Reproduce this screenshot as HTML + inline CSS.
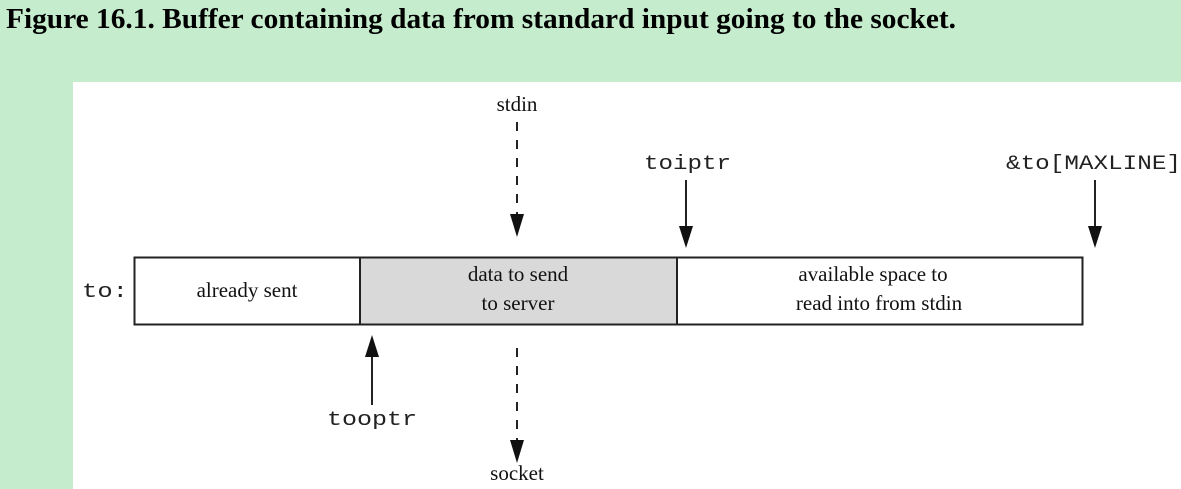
<!DOCTYPE html>
<html><head><style>
html,body{margin:0;padding:0;background:#c6ecce;width:1181px;height:489px;overflow:hidden}
</style></head><body>
<svg width="1181" height="489" xmlns="http://www.w3.org/2000/svg">
<rect width="1181" height="489" fill="#c6ecce"/>
<text x="6" y="28" font-family="Liberation Serif" font-weight="bold" font-size="29" textLength="950" lengthAdjust="spacingAndGlyphs" fill="#000">Figure 16.1. Buffer containing data from standard input going to the socket.</text>
<rect x="73" y="82" width="1108" height="407" fill="#fff"/>
<rect x="361" y="258" width="316" height="66" fill="#d9d9d9"/>
<rect x="134.5" y="257.5" width="948" height="67" fill="none" stroke="#222" stroke-width="2"/>
<line x1="360" y1="257" x2="360" y2="325" stroke="#222" stroke-width="2"/>
<line x1="677" y1="257" x2="677" y2="325" stroke="#222" stroke-width="2"/>
<g font-family="Liberation Serif" font-size="21" fill="#111" text-anchor="middle">
<text x="247" y="297">already sent</text>
<text x="518" y="281">data to send</text>
<text x="518" y="310">to server</text>
<text x="873" y="281">available space to</text>
<text x="879" y="310">read into from stdin</text>
<text x="517" y="111">stdin</text>
<text x="517" y="480">socket</text>
</g>
<g font-family="Liberation Mono" font-size="20" fill="#222">
<text x="82" y="297" textLength="46" lengthAdjust="spacingAndGlyphs">to:</text>
<text x="644" y="169" textLength="87" lengthAdjust="spacingAndGlyphs">toiptr</text>
<text x="1006" y="169" textLength="175" lengthAdjust="spacingAndGlyphs">&amp;to[MAXLINE]</text>
<text x="327" y="425" textLength="90" lengthAdjust="spacingAndGlyphs">tooptr</text>
</g>
<g stroke="#222" stroke-width="2">
<line x1="517" y1="122" x2="517" y2="222" stroke-dasharray="9,9"/>
<line x1="517" y1="348" x2="517" y2="450" stroke-dasharray="9,9"/>
<line x1="686" y1="180" x2="686" y2="230"/>
<line x1="1095" y1="180" x2="1095" y2="230"/>
<line x1="372" y1="350" x2="372" y2="405"/>
</g>
<g fill="#111">
<polygon points="510,214 524,214 517,237"/>
<polygon points="679,226 693,226 686,248"/>
<polygon points="1088,226 1102,226 1095,248"/>
<polygon points="365,357 379,357 372,335"/>
<polygon points="510,440 524,440 517,463"/>
</g>
</svg>
</body></html>
